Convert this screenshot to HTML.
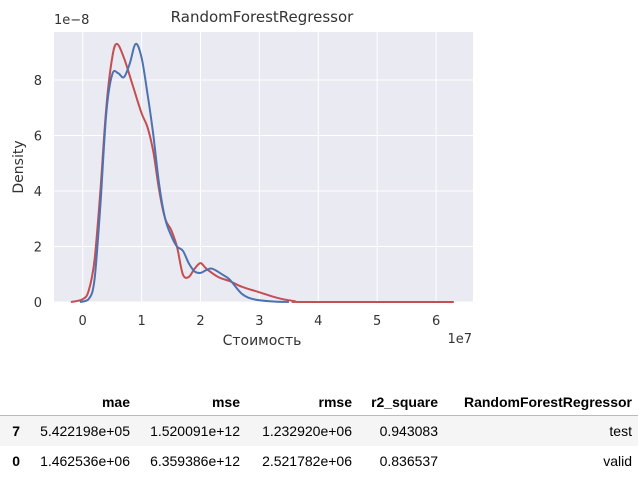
<!DOCTYPE html>
<html><head><meta charset="utf-8"><style>
body{margin:0;background:#fff;width:644px;height:486px;overflow:hidden;font-family:"Liberation Sans",sans-serif}
svg{position:absolute;left:0;top:0}
table{position:absolute;left:0;top:388px;border-collapse:collapse;font-size:14px;color:#000}
th,td{text-align:right;padding:0 6px;height:30px;white-space:nowrap}
thead th{border-bottom:1px solid #bbb;height:27px}
tbody tr:nth-child(1){background:#f5f5f5}
</style></head><body>
<svg width="644" height="380" id="chart"></svg>
<table>
<thead><tr><th style="width:14px"></th><th style="width:98px">mae</th><th style="width:98px">mse</th><th style="width:100px">rmse</th><th style="width:74px">r2_square</th><th style="width:182px">RandomForestRegressor</th></tr></thead>
<tbody>
<tr><th>7</th><td>5.422198e+05</td><td>1.520091e+12</td><td>1.232920e+06</td><td>0.943083</td><td>test</td></tr>
<tr><th>0</th><td>1.462536e+06</td><td>6.359386e+12</td><td>2.521782e+06</td><td>0.836537</td><td>valid</td></tr>
</tbody></table>
<script>
const xTicks=[0,1,2,3,4,5,6];
const yTicks=[0,2,4,6,8];
const redX=[-0.2,0,0.1,0.2,0.3,0.4,0.5,0.58,0.7,0.85,1.0,1.1,1.2,1.3,1.4,1.5,1.6,1.7,1.8,1.9,2.0,2.1,2.3,2.5,2.7,3.0,3.3,3.6,3.8,6.3];
const redY=[0,0.1,0.4,1.5,4,7,8.8,9.3,8.8,7.8,6.8,6.3,5.4,4.0,3.0,2.6,2.0,1.0,0.9,1.2,1.4,1.2,0.9,0.75,0.55,0.35,0.15,0.03,0,0];
const blueX=[-0.05,0.1,0.2,0.3,0.4,0.5,0.6,0.7,0.8,0.9,1.0,1.1,1.2,1.3,1.4,1.5,1.6,1.7,1.8,1.9,2.0,2.1,2.2,2.4,2.5,2.7,2.9,3.2,3.5];
const blueY=[0,0.1,0.8,3.5,6.8,8.2,8.25,8.1,8.6,9.3,8.8,7.5,6.0,4.2,3.0,2.4,2.0,1.85,1.4,1.1,1.05,1.15,1.2,0.95,0.8,0.3,0.1,0.02,0];
const svg=document.getElementById('chart');const NS='http://www.w3.org/2000/svg';
const L=54,R=473,T=32,B=302;
const xs=v=>82.7+v*58.9, ys=v=>302-v*27.75;
function mk(t,a,txt){const e=document.createElementNS(NS,t);for(const k in a)e.setAttribute(k,a[k]);if(txt!==undefined)e.textContent=txt;svg.appendChild(e);return e;}
let bg=mk('rect',{x:L,y:T,width:R-L,height:B-T,fill:'#eaeaf2'});


xTicks.forEach(t=>{let g=mk('line',{x1:xs(t),x2:xs(t),y1:T,y2:B,stroke:'#fff','stroke-width':1});


let l=mk('text',{x:xs(t),y:325,'text-anchor':'middle','font-size':13,fill:'#333','font-family':'DejaVu Sans'},t);

});
yTicks.forEach(t=>{let g=mk('line',{x1:L,x2:R,y1:ys(t),y2:ys(t),stroke:'#fff','stroke-width':1});


let l=mk('text',{x:42,y:ys(t)+5,'text-anchor':'end','font-size':13,fill:'#333','font-family':'DejaVu Sans'},t);

});
function line(X,Y,c,n){
 const P=X.map((x,i)=>[xs(x),ys(Y[i])]);
 let d='M'+P[0][0].toFixed(1)+','+P[0][1].toFixed(1);
 for(let i=0;i<P.length-1;i++){
  const p0=P[Math.max(0,i-1)],p1=P[i],p2=P[i+1],p3=P[Math.min(P.length-1,i+2)];
  let c1y=p1[1]+(p2[1]-p0[1])/6,c2y=p2[1]-(p3[1]-p1[1])/6;
  c1y=Math.min(c1y,B);c2y=Math.min(c2y,B);
  d+='C'+(p1[0]+(p2[0]-p0[0])/6).toFixed(1)+','+c1y.toFixed(1)+' '+(p2[0]-(p3[0]-p1[0])/6).toFixed(1)+','+c2y.toFixed(1)+' '+p2[0].toFixed(1)+','+p2[1].toFixed(1);
 }
 let p=mk('path',{d:d,fill:'none',stroke:c,'stroke-width':2,'stroke-linejoin':'round'});
 
 }
line(redX,redY,'#c44e52','kde-red');
line(blueX,blueY,'#4c72b0','kde-blue');
const txt=[['chart-title',262,22,'RandomForestRegressor','middle',15],['y-offset-label',54,24,'1e−8','start',13],['x-axis-title',262,345,'Стоимость','middle',14],['x-offset-label',472,343,'1e7','end',13]];
txt.forEach(a=>{let e=mk('text',{x:a[1],y:a[2],'text-anchor':a[4],'font-size':a[5],fill:'#333','font-family':'DejaVu Sans'},a[3]);

});
let yl=mk('text',{x:0,y:0,transform:'translate(23,167) rotate(-90)','text-anchor':'middle','font-size':14,fill:'#333','font-family':'DejaVu Sans'},'Density');


</script>
</body></html>
